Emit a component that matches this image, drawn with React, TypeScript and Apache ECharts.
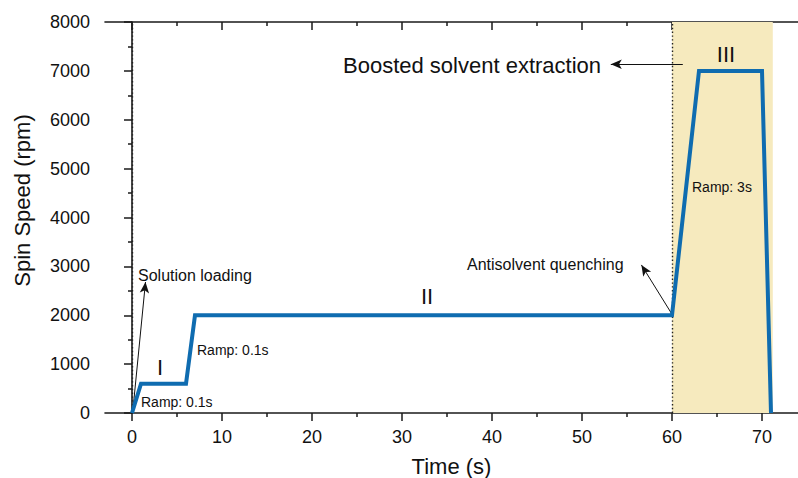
import React, { useEffect, useRef } from "react";
import * as echarts from "echarts";

// Spin-coating programme: time (s) vs. spin speed (rpm)
const timePoints = [0, 1, 6, 7, 60, 63, 70, 71];
const spinSpeeds = [0, 600, 600, 2000, 2000, 7000, 7000, 0];

const xMajorTicks = [0, 10, 20, 30, 40, 50, 60, 70];
const xMinorTicks = [5, 15, 25, 35, 45, 55, 65];
const stageMarkers = [0, 60];
const boostWindow = [60, 71.2];

const FONT = "'Liberation Sans', Arial, Helvetica, sans-serif";
const AXIS_COLOR = "#1a1a1a";
const LINE_COLOR = "#0f6cb0";

function txt(text: string, x: number, y: number, size: number, align: string = "left") {
  return {
    type: "text",
    x,
    y,
    z: 20,
    style: {
      text,
      fill: "#111",
      font: `${size}px ${FONT}`,
      textAlign: align,
      textVerticalAlign: "middle",
    },
  };
}

export default function App() {
  const ref = useRef<HTMLDivElement>(null);

  useEffect(() => {
    if (!ref.current) return;
    const chart = echarts.init(ref.current, undefined, { renderer: "svg" });

    const baseX = {
      type: "value",
      min: -3,
      max: 74,
      gridIndex: 0,
      splitLine: { show: false },
    };

    const option: any = {
      animation: false,
      backgroundColor: "#ffffff",
      grid: {
        left: 105,
        right: 0,
        top: 22,
        bottom: 65,
        containLabel: false,
        outerBoundsMode: "none",
      },
      xAxis: [
        {
          ...baseX,
          position: "bottom",
          name: "Time (s)",
          nameLocation: "middle",
          nameGap: 42,
          nameTextStyle: { fontSize: 22, fontFamily: FONT, color: "#111" },
          axisLine: { show: true, lineStyle: { color: AXIS_COLOR, width: 1.6 } },
          axisTick: {
            show: true,
            customValues: xMajorTicks,
            length: 8,
            lineStyle: { color: AXIS_COLOR, width: 1.5 },
          },
          axisLabel: {
            customValues: xMajorTicks,
            margin: 15,
            fontSize: 18,
            fontFamily: FONT,
            color: "#111",
          },
        },
        {
          ...baseX,
          position: "bottom",
          axisLine: { show: false },
          axisTick: {
            show: true,
            customValues: xMinorTicks,
            length: 4,
            lineStyle: { color: AXIS_COLOR, width: 1.5 },
          },
          axisLabel: { show: false },
        },
        {
          ...baseX,
          position: "top",
          axisLine: { show: true, lineStyle: { color: AXIS_COLOR, width: 1.6 } },
          axisTick: {
            show: true,
            inside: true,
            customValues: xMajorTicks,
            length: 8,
            lineStyle: { color: AXIS_COLOR, width: 1.5 },
          },
          axisLabel: { show: false },
        },
        {
          ...baseX,
          position: "top",
          axisLine: { show: false },
          axisTick: {
            show: true,
            inside: true,
            customValues: xMinorTicks,
            length: 4,
            lineStyle: { color: AXIS_COLOR, width: 1.5 },
          },
          axisLabel: { show: false },
        },
      ],
      yAxis: {
        type: "value",
        min: 0,
        max: 8000,
        interval: 1000,
        name: "Spin Speed (rpm)",
        nameLocation: "middle",
        nameGap: 72,
        nameTextStyle: {
          fontSize: 22,
          fontFamily: FONT,
          color: "#111",
          padding: [0, 0, 0, 34],
        },
        splitLine: { show: false },
        axisLine: { show: true, lineStyle: { color: AXIS_COLOR, width: 1.6 } },
        axisTick: { show: true, length: 8, lineStyle: { color: AXIS_COLOR, width: 1.5 } },
        minorTick: {
          show: true,
          splitNumber: 2,
          length: 4,
          lineStyle: { color: AXIS_COLOR, width: 1.5 },
        },
        axisLabel: {
          margin: 15,
          fontSize: 18,
          fontFamily: FONT,
          color: "#111",
          formatter: (v: number) => String(v),
        },
      },
      series: [
        {
          // shaded boost window and stage markers
          type: "line",
          data: [],
          z: 1,
          silent: true,
          markArea: {
            silent: true,
            itemStyle: { color: "#f6eabe" },
            data: [[{ xAxis: boostWindow[0] }, { xAxis: boostWindow[1] }]],
          },
          markLine: {
            silent: true,
            symbol: ["none", "none"],
            label: { show: false },
            lineStyle: { color: "#222", width: 1.4, type: [1.4, 2.4] },
            data: stageMarkers.map((v) => ({ xAxis: v })),
          },
        },
        {
          type: "line",
          z: 5,
          data: timePoints.map((t, i) => [t, spinSpeeds[i]]),
          showSymbol: false,
          lineStyle: { color: LINE_COLOR, width: 4, join: "miter" },
          itemStyle: { color: LINE_COLOR },
          markLine: {
            silent: true,
            symbol: ["none", "arrow"],
            symbolSize: [7, 11],
            label: { show: false },
            lineStyle: { color: "#111", width: 1, type: "solid" },
            data: [
              [{ coord: [0.1, 60] }, { coord: [1.5, 2680] }],
              [{ coord: [60, 2020] }, { coord: [56.6, 3030] }],
              [{ coord: [61.2, 7135] }, { coord: [53.2, 7135] }],
            ],
          },
        },
      ],
      graphic: [
        txt("Solution loading", 138, 275, 16),
        txt("Ramp: 0.1s", 141, 402, 14),
        txt("I", 160, 367, 22, "center"),
        txt("Ramp: 0.1s", 197, 350, 14),
        txt("II", 427, 296, 22, "center"),
        txt("Antisolvent quenching", 467, 264, 16),
        txt("Boosted solvent extraction", 343, 65, 22),
        txt("III", 726, 54, 22, "center"),
        txt("Ramp: 3s", 692, 187, 14),
      ],
    };

    chart.setOption(option);
    return () => chart.dispose();
  }, []);

  return (
    <div
      ref={ref}
      style={{ position: "fixed", left: 0, top: 0, width: 798, height: 478, background: "#fff" }}
    />
  );
}
